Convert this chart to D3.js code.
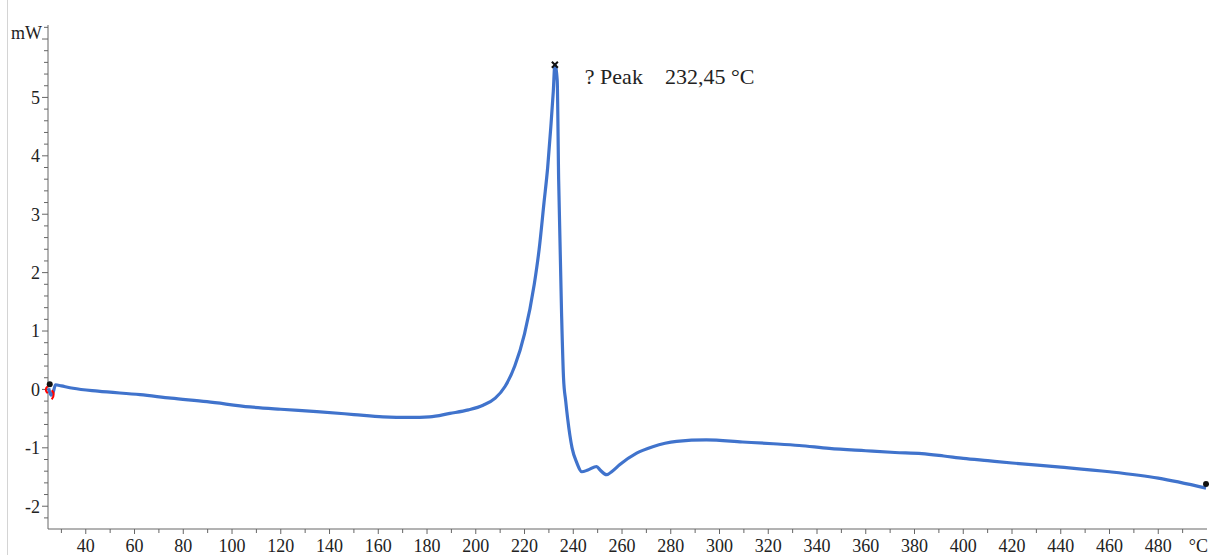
<!DOCTYPE html>
<html>
<style>
    body {
      margin: 0;
      overflow: hidden;
      background: #fff;
    }
    text {
      font-family: "Liberation Serif", "Times New Roman", serif;
      fill: #222;
    }
</style>
<script src="https://cdn.jsdelivr.net/npm/d3@7"></script>
<svg></svg>
<script>
// DSC trace: temperature (°C) and heat flow (mW)
var temps = [24.8, 25.8, 26.6, 27.6, 30, 34.8, 45, 62.3, 75, 89.7, 107.4, 120, 134.8,
  150, 161.9, 173, 181, 189.4, 197, 203, 208, 212, 216, 220, 224, 226, 228, 229.5,
  230.8, 231.8, 232.45, 233.4, 234.0, 235.2, 236, 236.9, 237.7, 239.5, 241.4, 243.5,
  246, 249.6, 251, 253.7, 256, 259, 266, 272.6, 282.4, 294.6, 309.4, 322, 332.7, 345,
  360, 372, 383, 392, 400, 410, 420, 440, 460, 480, 499.6];
var heatFlow = [0.02, -0.1, -0.05, 0.08, 0.06, 0.02, -0.03, -0.09, -0.15, -0.21, -0.3, -0.34, -0.38,
  -0.43, -0.47, -0.48, -0.47, -0.41, -0.35, -0.27, -0.15, 0.05, 0.4, 0.95, 1.8, 2.4, 3.2, 3.8,
  4.5, 5.1, 5.56, 5.3, 3.6, 1.3, 0.2, -0.2, -0.5, -1.0, -1.25, -1.41,
  -1.38, -1.32, -1.38, -1.46, -1.4, -1.29, -1.09, -0.98, -0.89, -0.865, -0.9, -0.93, -0.96, -1.01,
  -1.05, -1.08, -1.1, -1.14, -1.18, -1.22, -1.26, -1.33, -1.41, -1.52, -1.69];

var xTicksMajor = d3.range(40, 481, 20);
var xTicksMinor = d3.range(30, 500, 10);
var yTicksMajor = [-2, -1, 0, 1, 2, 3, 4, 5];
var yTicksMinor = d3.range(-2.2, 6.25, 0.2);

var peakT = 232.45, peakV = 5.56;
var peakLabel = "? Peak    232,45 °C";

var width = 1209, height = 555;

var x = d3.scaleLinear().domain([24.5, 500]).range([48, 1207]),
    y = d3.scaleLinear().domain([-2.39, 6.24]).range([529, 25]);

var svg = d3.select("svg")
    .attr("width", width)
    .attr("height", height);

// page border on the left
svg.append("line")
    .attr("x1", 7.5).attr("x2", 7.5)
    .attr("y1", 0).attr("y2", height)
    .style("stroke", "#d4d4d4");

// x axis
var xAxis = svg.append("g")
    .attr("transform", "translate(0," + y.range()[0] + ")");

xAxis.append("line")
    .attr("x1", x.range()[0]).attr("x2", x.range()[1])
    .style("stroke", "#666");

xAxis.selectAll(".minor")
    .data(xTicksMinor)
  .enter().append("line")
    .attr("x1", function(d) {return x(d)})
    .attr("x2", function(d) {return x(d)})
    .attr("y1", 0)
    .attr("y2", function(d) {return d % 20 === 0 ? 5 : 4})
    .style("stroke", "#666");

xAxis.selectAll("text")
    .data(xTicksMajor)
  .enter().append("text")
    .attr("x", function(d) {return x(d)})
    .attr("y", 23)
    .attr("text-anchor", "middle")
    .style("font-size", "18px")
    .text(function(d) {return d});

xAxis.append("text")
    .attr("x", x.range()[1] + 1)
    .attr("y", 23)
    .attr("text-anchor", "end")
    .style("font-size", "18px")
    .text("°C");

// y axis
var yAxis = svg.append("g")
    .attr("transform", "translate(" + x.range()[0] + ",0)");

yAxis.append("line")
    .attr("y1", y.range()[0]).attr("y2", y.range()[1])
    .style("stroke", "#666");

yAxis.selectAll(".tick")
    .data(yTicksMinor)
  .enter().append("line")
    .attr("y1", function(d) {return y(d)})
    .attr("y2", function(d) {return y(d)})
    .attr("x1", function(d) {return Math.abs(d - Math.round(d)) < 1e-6 ? -6 : -4})
    .attr("x2", 0)
    .style("stroke", "#666");

yAxis.selectAll("text")
    .data(yTicksMajor)
  .enter().append("text")
    .attr("x", -8)
    .attr("y", function(d) {return y(d)})
    .attr("dy", "0.35em")
    .attr("text-anchor", "end")
    .style("font-size", "18px")
    .text(function(d) {return d});

yAxis.append("text")
    .attr("x", -6)
    .attr("y", 39)
    .attr("text-anchor", "end")
    .style("font-size", "18px")
    .text("mW");

// curve
var data = temps.map(function(t, i) {return {t: t, v: heatFlow[i]}});

var line = d3.line()
    .curve(d3.curveMonotoneX)
    .x(function(d) {return x(d.t)})
    .y(function(d) {return y(d.v)});

svg.append("path")
    .datum(data)
    .attr("d", line)
    .style("fill", "none")
    .style("stroke", "#4073cc")
    .style("stroke-width", 3.2)
    .style("stroke-linejoin", "round");

// start markers
var first = data[0], last = data[data.length - 1];
var sx = x(first.t), sy = y(first.v);

svg.append("path")
    .attr("d", "M" + (sx - 1) + "," + (sy - 2) + " q-4,3 0,7")
    .style("fill", "none").style("stroke", "red").style("stroke-width", 2);
svg.append("path")
    .attr("d", "M" + (sx + 3) + "," + (sy + 2) + " q4,4 0,9")
    .style("fill", "none").style("stroke", "red").style("stroke-width", 2);

svg.append("circle")
    .attr("cx", sx + 1)
    .attr("cy", sy - 4)
    .attr("r", 3)
    .style("fill", "#111");

// end marker
svg.append("circle")
    .attr("cx", x(last.t))
    .attr("cy", y(last.v) - 4)
    .attr("r", 3)
    .style("fill", "#111");

// peak marker and label
var px = x(peakT), py = y(peakV);
svg.append("path")
    .attr("d", "M" + (px - 3) + "," + (py - 3) + "L" + (px + 3) + "," + (py + 3) +
               "M" + (px + 3) + "," + (py - 3) + "L" + (px - 3) + "," + (py + 3))
    .style("stroke", "#111")
    .style("stroke-width", 2);

svg.append("text")
    .attr("x", px + 30)
    .attr("y", py + 19)
    .style("font-size", "22px")
    .attr("xml:space", "preserve")
    .text(peakLabel);
</script>
</html>
